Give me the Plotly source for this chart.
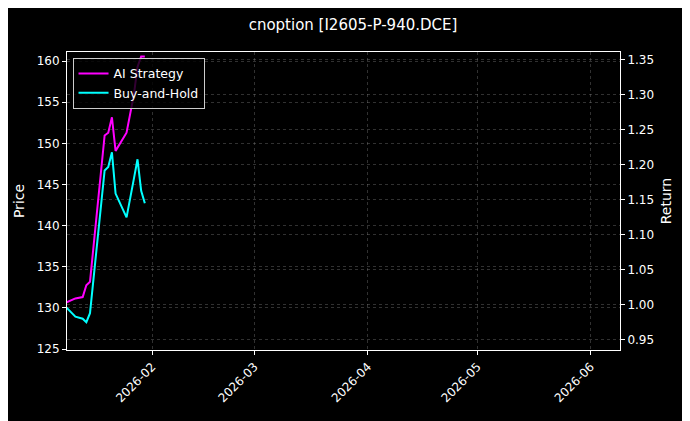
import plotly.graph_objects as go

# trading days (Jan 2026) and cumulative returns
dates = ["2026-01-08", "2026-01-11", "2026-01-13", "2026-01-14", "2026-01-15",
         "2026-01-19", "2026-01-20", "2026-01-21", "2026-01-22", "2026-01-25",
         "2026-01-27", "2026-01-28", "2026-01-29", "2026-01-30"]
ai_strategy = [1.002, 1.009, 1.011, 1.028, 1.033, 1.242, 1.246, 1.268, 1.220,
               1.246, 1.300, 1.340, 1.355, 1.355]
buy_hold = [0.999, 0.983, 0.980, 0.975, 0.988, 1.192, 1.197, 1.218, 1.159,
            1.125, 1.180, 1.208, 1.163, 1.145]
price_ticks = [125, 130, 135, 140, 145, 150, 155, 160]
return_ticks = [0.95, 1.00, 1.05, 1.10, 1.15, 1.20, 1.25, 1.30, 1.35]
month_ticks = ["2026-02-01", "2026-03-01", "2026-04-01", "2026-05-01", "2026-06-01"]
month_labels = ["2026-02", "2026-03", "2026-04", "2026-05", "2026-06"]

fig = go.Figure()
# invisible trace so the price axis is drawn
fig.add_trace(go.Scatter(x=[dates[0]], y=[140], mode="markers", opacity=0,
                         showlegend=False, hoverinfo="skip", yaxis="y"))
fig.add_trace(go.Scatter(x=dates, y=ai_strategy, name="AI Strategy", mode="lines",
                         line=dict(color="#ff00ff", width=2), yaxis="y2"))
fig.add_trace(go.Scatter(x=dates, y=buy_hold, name="Buy-and-Hold", mode="lines",
                         line=dict(color="#00ffff", width=2), yaxis="y2"))

axis_style = dict(showline=True, linecolor="white", linewidth=1, ticks="outside",
                  tickcolor="white", ticklen=4, zeroline=False,
                  gridcolor="rgba(140,140,140,0.35)", griddash="dot", gridwidth=0.5)

fig.update_layout(
    width=690, height=421,
    paper_bgcolor="black", plot_bgcolor="black",
    font=dict(family="DejaVu Sans", color="white", size=12),
    margin=dict(l=59, r=78, t=44, b=79),
    title=dict(text="cnoption [I2605-P-940.DCE]", x=0.5, xanchor="center",
               y=0.96, yanchor="middle", font=dict(size=15)),
    xaxis=dict(**axis_style, mirror=True, range=["2026-01-08 17:00", "2026-06-09"],
               tickvals=month_ticks, ticktext=month_labels, tickangle=-45),
    yaxis=dict(**axis_style, mirror=True, range=[124.88, 161.1], tickvals=price_ticks,
               title=dict(text="Price", standoff=8)),
    yaxis2=dict(**axis_style, overlaying="y", side="right", range=[0.9353, 1.3614],
                tickvals=return_ticks, tickformat=".2f", showgrid=True,
                title=dict(text="Return", standoff=8)),
    legend=dict(x=0.01, y=0.98, xanchor="left", yanchor="top",
                bgcolor="rgba(0,0,0,0.8)", bordercolor="#cccccc", borderwidth=1,
                font=dict(size=12.5)),
    showlegend=True,
)

fig.write_html("out.html")
